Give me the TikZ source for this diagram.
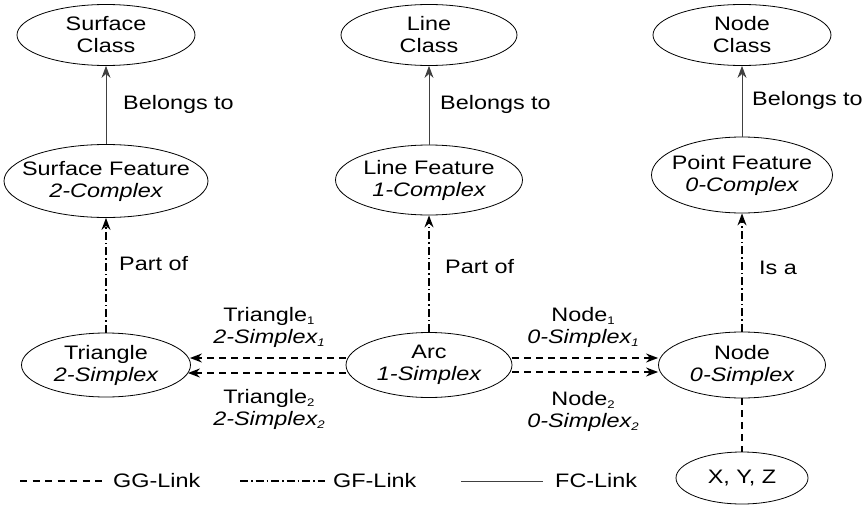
\documentclass[tikz,border=0pt]{standalone}
\usepackage{fontspec}
\setmainfont[FakeStretch=1.2]{Liberation Sans}
\usetikzlibrary{arrows.meta,shapes.geometric}
\newcommand\sbx[1]{\raisebox{-0.35ex}{\fontsize{11}{11}\selectfont #1}}
\tikzset{
  ell/.style={ellipse,draw,line width=0.8pt,inner sep=0pt},
  txt/.style={align=center,inner sep=0pt,font=\fontsize{19.5}{22}\selectfont},
  lbl/.style={anchor=west,inner sep=0pt,font=\fontsize{19.5}{22}\selectfont},
  tip/.style={-{Stealth[length=12pt,width=9pt]}},
  gg/.style={line width=1.6pt,dash pattern=on 7pt off 5pt},
  gf/.style={line width=1.5pt,dash pattern=on 8pt off 3pt on 1.5pt off 3pt},
  fc/.style={line width=0.9pt,black!75},
}
\begin{document}
\begin{tikzpicture}[x=1pt,y=-1pt]
\useasboundingbox (0,0) rectangle (868,506);
% top row
\node[ell,minimum width=178pt,minimum height=61pt] (sc) at (106,35) {};
\node[txt] at (sc) {Surface\\Class};
\node[ell,minimum width=176pt,minimum height=61pt] (lc) at (429,35) {};
\node[txt] at (lc) {Line\\Class};
\node[ell,minimum width=178pt,minimum height=61pt] (nc) at (742,35) {};
\node[txt] at (nc) {Node\\Class};
% feature row
\node[ell,minimum width=204pt,minimum height=73pt] (sf) at (106,181) {};
\node[txt] at (sf) {Surface Feature\\\itshape 2-Complex};
\node[ell,minimum width=187pt,minimum height=70pt] (lf) at (429,180) {};
\node[txt] at (lf) {Line Feature\\\itshape 1-Complex};
\node[ell,minimum width=181pt,minimum height=76pt] (pf) at (742,175) {};
\node[txt] at (pf) {Point Feature\\\itshape 0-Complex};
% simplex row
\node[ell,minimum width=169pt,minimum height=64pt] (tri) at (106,365) {};
\node[txt] at (tri) {Triangle\\\itshape 2-Simplex};
\node[ell,minimum width=166pt,minimum height=65pt] (arc) at (429,365) {};
\node[txt] at (arc) {Arc\\\itshape 1-Simplex};
\node[ell,minimum width=167pt,minimum height=66pt] (nd) at (742,365) {};
\node[txt] at (nd) {Node\\\itshape 0-Simplex};
\node[ell,minimum width=132pt,minimum height=52pt] (xyz) at (742,478) {};
\node[txt] at (xyz) {X, Y, Z};
% FC links
\draw[fc,tip] (sf.north) -- (sc.south);
\draw[fc,tip] (lf.north) -- (lc.south);
\draw[fc,tip] (pf.north) -- (nc.south);
\node[lbl] at (123,104) {Belongs to};
\node[lbl] at (440,104) {Belongs to};
\node[lbl] at (752,100) {Belongs to};
% GF links
\draw[gf,tip] (tri.north) -- (sf.south);
\draw[gf,tip] (arc.north) -- (lf.south);
\draw[gf,tip] (nd.north) -- (pf.south);
\node[lbl] at (119,264) {Part of};
\node[lbl] at (445,267) {Part of};
\node[lbl] at (759,268) {Is a};
% GG links
\draw[gg,tip] ([yshift=7pt]arc.west) -- ([yshift=7pt,xshift=-1pt]tri.east);
\draw[gg,tip] ([yshift=-8pt]arc.west) -- ([yshift=-8pt,xshift=-3pt]tri.east);
\draw[gg,tip] ([yshift=7pt]arc.east) -- ([yshift=7pt]nd.west);
\draw[gg,tip] ([yshift=-7pt]arc.east) -- ([yshift=-7pt]nd.west);
\draw[gg] (nd.south) -- (xyz.north);
\node[txt] at (269,327) {Triangle\sbx{1}\\\itshape 2-Simplex\sbx{1}};
\node[txt] at (269,409) {Triangle\sbx{2}\\\itshape 2-Simplex\sbx{2}};
\node[txt] at (583,327) {Node\sbx{1}\\\itshape 0-Simplex\sbx{1}};
\node[txt] at (583,411) {Node\sbx{2}\\\itshape 0-Simplex\sbx{2}};
% legend
\coordinate (g1) at (20,481); \coordinate (g2) at (103,481);
\draw[gg,line width=1.3pt,dash pattern=on 7pt off 5.5pt] (g1) -- (g2);
\node[lbl] at (113,481) {GG-Link};
\coordinate (f1) at (240,481); \coordinate (f2) at (325,481);
\draw[gf,line width=1.6pt] (f1) -- (f2);
\node[lbl] at (333,481) {GF-Link};
\coordinate (c1) at (461,481); \coordinate (c2) at (543,481);
\draw[fc] (c1) -- (c2);
\node[lbl] at (555,481) {FC-Link};
\end{tikzpicture}
\end{document}
